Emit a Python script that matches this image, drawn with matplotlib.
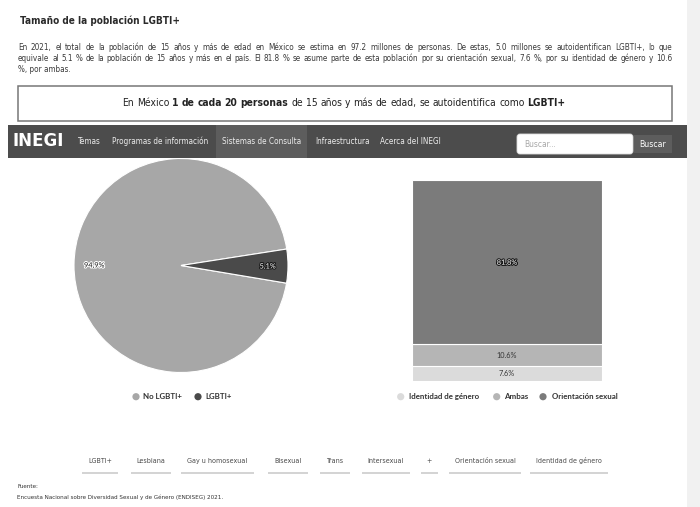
import matplotlib
matplotlib.use("Agg")
import matplotlib.pyplot as plt
import matplotlib.font_manager as fm
from matplotlib.patches import Rectangle, FancyBboxPatch, Circle
import matplotlib.patheffects as pe

# ---------------- data ----------------
title = "Tamaño de la población LGBTI+"
paragraph_lines = [
    "En 2021, el total de la población de 15 años y más de edad en México se estima en 97.2 millones de personas. De estas, 5.0 millones se autoidentifican LGBTI+, lo que",
    "equivale al 5.1 % de la población de 15 años y más en el país. El 81.8 % se asume parte de esta población por su orientación sexual, 7.6 %, por su identidad de género y 10.6",
    "%, por ambas.",
]
highlight_runs = [
    ("En México", "normal"),
    ("1 de cada 20 personas", "bold"),
    ("de 15 años y más de edad, se autoidentifica como", "normal"),
    ("LGBTI+", "bold"),
]
logo_text = "INEGI"
nav_items = ["Temas", "Programas de información", "Sistemas de Consulta",
             "Infraestructura", "Acerca del INEGI"]
search_placeholder = "Buscar..."
search_button = "Buscar"
pie_labels = ["No LGBTI+", "LGBTI+"]
pie_values = [94.9, 5.1]
bar_labels = ["Identidad de género", "Ambas", "Orientación sexual"]
bar_values = [7.6, 10.6, 81.8]
tabs = ["LGBTI+", "Lesbiana", "Gay u homosexual", "Bisexual", "Trans",
        "Intersexual", "+", "Orientación sexual", "Identidad de género"]
source_title = "Fuente:"
source_text = "Encuesta Nacional sobre Diversidad Sexual y de Género (ENDISEG) 2021."

# ---------------- fonts ----------------
_names = {f.name for f in fm.fontManager.ttflist}
_dv_cond = any(f.name == "DejaVu Sans" and str(f.stretch) in ("condensed", "semi-condensed", "500")
               for f in fm.fontManager.ttflist if "Condensed" in f.fname)
if "Liberation Sans Narrow" in _names:
    SANS = dict(family="Liberation Sans Narrow")
elif _dv_cond:
    SANS = dict(family="DejaVu Sans", fontstretch="condensed")
else:
    SANS = dict(family="Liberation Sans")
LAB = dict(family="Lato" if "Lato" in _names else "DejaVu Sans")

# ---------------- styles / layout ----------------
pie_colors = ["#a7a7a7", "#4a4a4a"]
bar_colors = ["#dbdbdb", "#b5b5b5", "#7b7b7b"]
NAV_BG = "#4c4c4c"

W, H = 700, 507
fig = plt.figure(figsize=(W / 100, H / 100), dpi=100)
fig.patch.set_facecolor("white")
page = fig.add_axes([0, 0, 1, 1])
page.set_xlim(0, W)
page.set_ylim(H, 0)
page.axis("off")
page.set_zorder(10)
R = fig.canvas.get_renderer()


def wid(t):
    return t.get_window_extent(R).width


def fit(t, target):
    t.set_fontsize(t.get_fontsize() * target / wid(t))
    return t


def space_w(size, weight="normal", fam=SANS):
    a = page.text(0, -100, "a a", fontsize=size, weight=weight, **fam)
    b = page.text(0, -100, "aa", fontsize=size, weight=weight, **fam)
    s = wid(a) - wid(b)
    a.remove(); b.remove()
    return s


# scrollbar strip
page.add_patch(Rectangle((687, 0), 13, H, fc="#f1f1f1", ec="none"))

# title
t = page.text(20, 20.5, title, fontsize=12, weight="bold", va="center",
              color="#2a2a2a", **SANS)
fit(t, 158)

# paragraph (justified)
X0, X1 = 18, 672
sizes = []
for line in paragraph_lines[:2]:
    tmp = page.text(0, -100, line, fontsize=6, **SANS)
    sizes.append(6 * (X1 - X0) / wid(tmp))
    tmp.remove()
psize = min(sizes) * 0.985
for i, (line, y) in enumerate(zip(paragraph_lines, [47.5, 58.5, 69.5])):
    if i < 2:
        words = line.split(" ")
        txts = [page.text(0, y, w, fontsize=psize, va="center",
                          color="#3a3a3a", **SANS) for w in words]
        ws = [wid(tt) for tt in txts]
        gap = (X1 - X0 - sum(ws)) / (len(words) - 1)
        x = X0
        for tt, w in zip(txts, ws):
            tt.set_x(x)
            x += w + gap
    else:
        page.text(X0, y, line, fontsize=psize, va="center",
                  color="#3a3a3a", **SANS)

# highlight box
page.add_patch(Rectangle((18, 86), 654, 34.5, fc="white", ec="#777777", lw=1.1))
bsize = 8
words = []
for run, weight in highlight_runs:
    for w in run.split(" "):
        words.append((w, weight))
txts = [page.text(0, 103, w, fontsize=bsize, weight=wt,
                  va="center", color="#222222", **SANS) for w, wt in words]
sp = space_w(bsize)
total = sum(wid(tt) for tt in txts) + sp * (len(txts) - 1)
bsize *= 445 / total
for tt in txts:
    tt.set_fontsize(bsize)
sp = space_w(bsize)
ws = [wid(tt) for tt in txts]
total = sum(ws) + sp * (len(ws) - 1)
x = 344 - total / 2
for tt, w in zip(txts, ws):
    tt.set_x(x)
    x += w + sp

# nav bar
page.add_patch(Rectangle((8, 125), 679, 33, fc=NAV_BG, ec="none"))
page.add_patch(Rectangle((216, 125), 91, 33, fc="#5d5d5d", ec="none"))
lg = page.text(12.5, 141.5, logo_text, fontsize=12, weight="heavy",
               color="white", va="center", **SANS)
fit(lg, 51.5)
nav_x = [76.7, 111.7, 222, 315, 380]
ref = page.text(0, -100, nav_items[1], fontsize=7, **SANS)
nsize = 7 * 97 / wid(ref)
ref.remove()
for item, x in zip(nav_items, nav_x):
    page.text(x, 141.5, item, fontsize=nsize, color="#ececec",
              va="center", **SANS)
page.add_patch(FancyBboxPatch((517, 134), 116, 20,
                              boxstyle="round,pad=0,rounding_size=3",
                              fc="white", ec="#dddddd", lw=0.6))
sp_t = page.text(524, 144.5, search_placeholder, fontsize=6,
                 color="#a8a8a8", va="center", **SANS)
fit(sp_t, 32)
page.add_patch(Rectangle((634, 135), 38, 18, fc="#5d5d5d", ec="none"))
bt = page.text(653, 144.5, search_button, fontsize=6,
               color="white", va="center", ha="center", **SANS)
fit(bt, 26.5)

# ---------------- pie ----------------
cx, cy, rad = 181, 265.5, 107
ax_pie = fig.add_axes([(cx - rad) / W, (H - (cy + rad)) / H, 2 * rad / W, 2 * rad / H])
wedges, _, autotexts = ax_pie.pie(
    pie_values, colors=pie_colors, startangle=-9.5, counterclock=False,
    autopct="%1.1f%%", pctdistance=0.81, radius=1,
    wedgeprops=dict(edgecolor="white", linewidth=0.8),
    textprops=dict(fontsize=5.3, **LAB))
ax_pie.set_xlim(-1, 1)
ax_pie.set_ylim(-1, 1)
ax_pie.axis("off")
autotexts[0].set_color("#1a1a1a")
autotexts[0].set_path_effects([pe.withStroke(linewidth=1.5, foreground="white")])
autotexts[1].set_color("white")
autotexts[1].set_path_effects([pe.withStroke(linewidth=1.5, foreground="#1a1a1a")])

# ---------------- stacked bar ----------------
ax_bar = fig.add_axes([412 / W, (H - 381) / H, 190 / W, 201 / H])
bottom = 0
for lab, v, c in zip(bar_labels, bar_values, bar_colors):
    ax_bar.bar(0, v, width=1, bottom=bottom, color=c, edgecolor="white",
               linewidth=0.8)
    txt = ax_bar.text(0, bottom + v / 2, f"{v}%", ha="center", va="center",
                      fontsize=5.3, color="white" if v > 50 else "#333333", **LAB)
    if v > 50:
        txt.set_path_effects([pe.withStroke(linewidth=1.5, foreground="#1a1a1a")])
    bottom += v
ax_bar.set_xlim(-0.5, 0.5)
ax_bar.set_ylim(0, bottom)
ax_bar.axis("off")

# ---------------- legends ----------------
ref = page.text(0, -100, bar_labels[0], fontsize=6, weight="bold", **LAB)
lsize = 6 * 71 / wid(ref)
ref.remove()
LY = 396.7
for lab, c, mx, tx in zip(pie_labels, pie_colors, [136, 198], [143, 205]):
    page.add_patch(Circle((mx, LY), 3.6, fc=c, ec="none"))
    page.text(tx, LY, lab, fontsize=lsize, weight="bold",
              color="#333333", va="center", **LAB)
for lab, c, mx, tx in zip(bar_labels, bar_colors, [400.7, 496.7, 543], [409, 504, 552]):
    page.add_patch(Circle((mx, LY), 3.6, fc=c, ec="none"))
    page.text(tx, LY, lab, fontsize=lsize, weight="bold",
              color="#333333", va="center", **LAB)

# ---------------- tabs ----------------
tab_cx = [100, 151, 217.5, 288, 335, 386, 429.4, 485, 569]
ref = page.text(0, -100, tabs[-1], fontsize=6, **SANS)
tsize = 6 * 65 / wid(ref)
ref.remove()
for lab, x in zip(tabs, tab_cx):
    tt = page.text(x, 461, lab, fontsize=tsize, color="#4a4a4a",
                   ha="center", va="center", **SANS)
    w = wid(tt)
    page.plot([x - w / 2 - 6, x + w / 2 + 6], [472.7, 472.7], color="#c8c8c8",
              lw=1.1, solid_capstyle="butt")

# ---------------- source ----------------
st = page.text(17, 497, source_text, fontsize=5, color="#333333",
               va="center", **SANS)
fit(st, 211)
page.text(17, 486.7, source_title, fontsize=st.get_fontsize(),
          color="#333333", va="center", **SANS)

fig.savefig("out.png", dpi=100, facecolor="white")
